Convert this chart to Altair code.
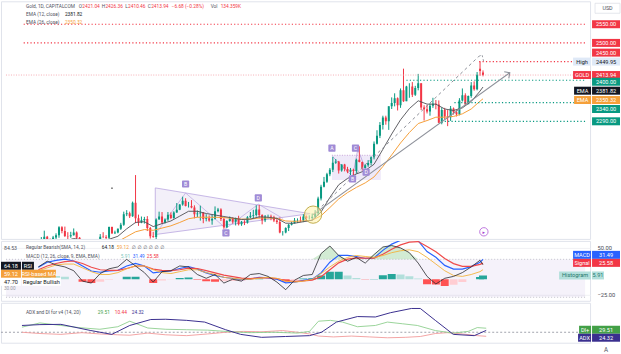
import altair as alt
import pandas as pd

FONT = "Roboto, DejaVu Sans, sans-serif"
W, H1, H2, H3 = 590, 238, 60, 40
X_END = 1 + W / 3

UP, DOWN = "#089981", "#f23645"
RED, GREEN = "#f23645", "#089981"
GRID = "#f0f1f4"
DARK = "#50535e"
INK = "#131722"
ORANGE = "#f5a03a"
BLUE = "#2962ff"
NAVY = "#3a2f8f"
LAV = "#a08bd6"

# ---------------- data (daily bars, bar index 8 = 12 Oct 2023) ----------------
first_bar = 8
opens = [1874, 1868, 1932, 1920, 1923, 1947, 1974, 1981, 1973, 1971,
         1979, 1985, 2006, 1996, 1983, 1982, 1985, 1992, 1978, 1969,
         1950, 1958, 1940, 1946, 1963, 1959, 1981, 1980, 1978, 2007,
         1990, 1992, 2002, 2013, 2041, 2044, 2036, 2072, 2030, 2019,
         2025, 2028, 2004, 1982, 1980, 2027, 2035, 2019, 2027, 2040,
         2031, 2046, 2053, 2067, 2077, 2063, 2063, 2059, 2041, 2043,
         2045, 2028, 2030, 2024, 2029, 2049, 2054, 2028, 2006, 2023,
         2029, 2021, 2029, 2014, 2021, 2018, 2033, 2037, 2039, 2054,
         2039, 2025, 2035, 2035, 2033, 2024, 2020, 1992, 1992, 2004,
         2013, 2017, 2024, 2025, 2024, 2035, 2031, 2031, 2034, 2044,
         2083, 2115, 2128, 2148, 2160, 2179, 2182, 2158, 2174, 2162,
         2155, 2160, 2157, 2187, 2181, 2165, 2172, 2178, 2194, 2230,
         2251, 2280, 2300, 2290, 2330, 2339, 2352, 2333, 2373, 2344,
         2383, 2383, 2361, 2379, 2392, 2327, 2322, 2316, 2332, 2337,
         2335, 2286, 2320, 2303, 2301, 2324, 2314, 2309, 2346, 2360,
         2336, 2358, 2386, 2376, 2431, 2421.04]
highs = [1885, 1933, 1938, 1936, 1962, 1980, 1997, 1983, 1976, 1983,
         1990, 2009, 2009, 2008, 1993, 1994, 2003, 1995, 1980, 1970,
         1965, 1960, 1950, 1970, 1972, 1988, 1993, 1985, 2008, 2008,
         1997, 2003, 2018, 2048, 2052, 2048, 2075, 2146, 2040, 2035,
         2034, 2036, 2007, 1994, 2030, 2048, 2047, 2030, 2047, 2046,
         2049, 2071, 2068, 2088, 2084, 2074, 2079, 2065, 2051, 2064,
         2047, 2041, 2038, 2040, 2062, 2058, 2057, 2031, 2025, 2035,
         2033, 2032, 2037, 2023, 2025, 2036, 2047, 2053, 2065, 2066,
         2041, 2039, 2040, 2040, 2037, 2030, 2032, 1996, 2006, 2015,
         2021, 2031, 2030, 2035, 2041, 2038, 2038, 2043, 2052, 2088,
         2120, 2141, 2152, 2165, 2195, 2189, 2184, 2175, 2176, 2168,
         2165, 2163, 2190, 2223, 2182, 2176, 2186, 2196, 2236, 2266,
         2288, 2305, 2305, 2330, 2354, 2365, 2354, 2378, 2431, 2385,
         2392, 2395, 2385, 2417, 2392, 2333, 2334, 2338, 2353, 2347,
         2346, 2327, 2326, 2320, 2331, 2327, 2320, 2352, 2378, 2365,
         2359, 2395, 2397, 2422, 2449.95, 2426.36]
lows = [1866, 1867, 1908, 1916, 1922, 1945, 1965, 1960, 1954, 1960,
        1971, 1978, 1990, 1980, 1970, 1978, 1984, 1970, 1955, 1945,
        1944, 1932, 1931, 1935, 1955, 1956, 1977, 1965, 1975, 1988,
        1988, 1990, 1999, 2010, 2036, 2031, 2034, 2017, 2010, 2017,
        2016, 1996, 1976, 1978, 1973, 2027, 2015, 2016, 2023, 2028,
        2029, 2045, 2052, 2064, 2062, 2059, 2057, 2030, 2033, 2024,
        2017, 2022, 2021, 2013, 2027, 2046, 2023, 2002, 2004, 2021,
        2016, 2011, 2011, 2010, 2012, 2016, 2030, 2030, 2035, 2030,
        2014, 2020, 2030, 2025, 2020, 2015, 1990, 1984, 1990, 1996,
        2011, 2016, 2018, 2020, 2020, 2025, 2027, 2025, 2031, 2038,
        2078, 2113, 2125, 2143, 2154, 2176, 2150, 2155, 2156, 2151,
        2146, 2145, 2149, 2180, 2158, 2164, 2168, 2172, 2188, 2228,
        2245, 2268, 2281, 2267, 2323, 2330, 2319, 2326, 2342, 2344,
        2353, 2355, 2358, 2373, 2320, 2292, 2311, 2305, 2326, 2322,
        2285, 2282, 2295, 2277, 2291, 2308, 2303, 2306, 2343, 2334,
        2336, 2353, 2372, 2373, 2412, 2410.46]
closes = [1868, 1932, 1920, 1923, 1947, 1974, 1981, 1973, 1971, 1979,
          1985, 2006, 1996, 1983, 1982, 1985, 1992, 1978, 1969, 1950,
          1958, 1940, 1946, 1963, 1959, 1981, 1980, 1978, 2007, 1990,
          1992, 2002, 2013, 2041, 2044, 2036, 2072, 2030, 2019, 2025,
          2028, 2004, 1982, 1980, 2027, 2035, 2019, 2027, 2040, 2031,
          2046, 2053, 2067, 2077, 2063, 2063, 2059, 2041, 2043, 2045,
          2028, 2030, 2024, 2029, 2049, 2054, 2028, 2006, 2023, 2029,
          2021, 2029, 2014, 2021, 2018, 2033, 2037, 2039, 2054, 2039,
          2025, 2035, 2035, 2033, 2024, 2020, 1992, 1992, 2004, 2013,
          2017, 2024, 2025, 2024, 2035, 2031, 2031, 2034, 2044, 2083,
          2115, 2128, 2148, 2160, 2179, 2182, 2158, 2174, 2162, 2155,
          2160, 2157, 2187, 2181, 2165, 2172, 2178, 2194, 2230, 2251,
          2280, 2300, 2290, 2330, 2339, 2352, 2333, 2373, 2344, 2383,
          2383, 2361, 2379, 2392, 2327, 2322, 2316, 2332, 2337, 2335,
          2286, 2320, 2303, 2301, 2324, 2314, 2309, 2346, 2360, 2336,
          2358, 2386, 2376, 2415, 2425, 2413.94]

# indicator readings (every third bar)
ind_idx = [12, 15, 18, 21, 24, 27, 30, 33, 36, 39,
           42, 45, 48, 51, 54, 57, 60, 63, 66, 69,
           72, 75, 78, 81, 84, 87, 90, 93, 96, 99,
           102, 105, 108, 111, 114, 117, 120, 123, 126, 129,
           132, 135, 138, 141, 144, 147, 150, 153, 156, 159,
           162, 163]
ema12 = [1909, 1935, 1952, 1969, 1976, 1972, 1963, 1965, 1974, 1982,
         2002, 2019, 2021, 2008, 2016, 2023, 2036, 2049, 2049, 2043,
         2039, 2035, 2031, 2027, 2028, 2034, 2033, 2030, 2017, 2017,
         2021, 2025, 2047, 2086, 2120, 2137, 2149, 2158, 2175, 2215,
         2256, 2294, 2324, 2345, 2336, 2336, 2323, 2319, 2326, 2343,
         2371, 2381.82]
ema26 = [1890, 1908, 1922, 1937, 1947, 1951, 1950, 1954, 1961, 1968,
         1981, 1994, 2000, 1998, 2004, 2010, 2019, 2029, 2033, 2033,
         2033, 2032, 2030, 2028, 2028, 2031, 2031, 2030, 2023, 2022,
         2023, 2025, 2037, 2059, 2082, 2099, 2113, 2125, 2141, 2169,
         2200, 2232, 2260, 2284, 2292, 2301, 2301, 2303, 2310, 2323,
         2344, 2350.32]
macd = [19, 27, 30, 32, 29, 21, 13, 11, 13, 14,
        21, 25, 21, 10, 12, 13, 17, 20, 16, 10,
        6, 3, 1, -1, 0, 3, 2, 0, -6, -5,
        -2, 0, 10, 27, 38, 38, 36, 33, 34, 46,
        56, 62, 64, 61, 44, 35, 22, 16, 16, 20,
        27, 31.49]
signal = [15, 21, 25, 28, 29, 25, 19, 15, 14, 14,
          17, 21, 21, 16, 14, 13.5, 15, 17.5, 17, 13.5,
          10, 6.5, 4, 1.5, 0.8, 1.9, 2, 1, -2.4, -3.7,
          -2.9, -1.5, 4, 15, 26, 32, 34, 33.5, 33.7, 39.7,
          47.7, 54.7, 59.2, 60, 52, 43.7, 33.1, 24.8, 20.5, 20.3,
          23.6, 25.58]
rsi = [62, 68, 64, 62, 58, 47, 45, 55, 60, 62,
       70, 63, 56, 46, 57, 58, 63, 62, 54, 50,
       54, 45, 49, 47, 54, 55, 52, 46, 38, 48,
       53, 54, 76, 84, 74, 68, 72, 66, 75, 83,
       84.5, 82, 77, 66, 52, 44, 50, 52, 56, 62,
       69, 64.18]
rsi_ma = [58, 61, 64, 65, 65, 61, 57, 54, 54, 56,
          60, 63, 63, 59, 56, 55, 57, 59, 59, 56,
          54, 51, 50, 49, 49, 50, 51, 50, 47, 46,
          47, 49, 55, 62, 68, 72, 74, 73, 72, 74,
          77, 79, 80, 78, 72, 65, 58, 53, 52, 54,
          57, 59.12]

adx_idx = [8, 14, 21, 31, 38, 44, 51, 56, 63, 69, 76, 81, 88, 96, 104, 108,
           113, 120, 126, 131, 138, 141, 146, 152, 159, 163]
adx_val = [36, 38, 38.6, 24, 15, 36, 50, 50.6, 48, 44, 26, 15, 8, 10, 12, 20,
           44, 57, 56, 66, 76, 76, 48, 15, 12, 24.32]
dip_idx = [8, 14, 21, 27, 34, 40, 44, 50, 56, 63, 70, 76, 84, 92, 100, 104,
           107, 111, 115, 120, 126, 130, 135, 140, 146, 152, 157, 160, 163]
dip_val = [32, 42, 36, 31, 27, 33, 46, 30, 27, 26, 25, 22, 19, 20, 18, 22,
           46, 48, 44, 33, 36, 44, 40, 36, 24, 18, 22, 31, 29.51]
dim_idx = [8, 14, 21, 28, 34, 40, 44, 50, 56, 63, 70, 76, 82, 88, 95, 100,
           104, 107, 112, 118, 124, 130, 136, 141, 146, 150, 155, 160, 163]
dim_val = [20, 17, 15, 19, 16, 14, 13, 18, 14, 12, 16, 20, 22, 21, 24, 20,
           16, 11, 9, 11, 9, 7, 8, 10, 17, 19, 16, 12, 10.44]

month_idx = [22, 44, 64, 86, 107, 127, 149, 172, 191]
month_lbl = ["Nov", "Dec", "2024", "Feb", "Mar", "Apr", "May", "Jun", "Jul"]
price_ticks = [2000, 2040, 2080, 2120, 2160, 2200, 2240, 2280, 2320, 2360,
               2400, 2440, 2480, 2520, 2560]

# horizontal levels: price, first bar index
red_levels = [2550, 2500, 2450]
red_level_from = [7, 7, 161.7]
green_levels = [2400, 2340, 2290]
green_level_from = [137, 153.3, 150]
last_close = 2413.94

# drawings (bar index, price)
tri_i = [51.7, 104.3, 51.7]
tri_p = [2111.6, 2042.5, 1986.7]
zig1_i = [51.7, 62, 75.7, 86.7, 95]
zig1_p = [1987, 2098, 2003, 2068, 2030]
box2_i = [111.7, 128.3]
box2_p = [2199, 2133]
zig2_i = [112, 118.7, 120.5, 123.3]
zig2_p = [2195, 2142, 2215, 2158]
trend_i = [105.3, 172.1]
trend_p = [2040, 2420]
dash_i = [105.3, 161.6]
dash_p = [2040, 2464]
hook_i = [161.6, 162.7, 163.2]
hook_p = [2464, 2468, 2451]
pattern_lbl = ["B", "C", "D", "A", "C", "B", "D"]
pattern_i = [62, 75.7, 86.7, 111.7, 119.7, 118.7, 123.3]
pattern_p = [2122, 1991, 2085, 2218, 2218, 2136, 2154]

# right-hand price tags: value, price where the tag is drawn
tag_values = [2550, 2500, 2450, 2449.95, 2413.94, 2400, 2381.82, 2350.32, 2340, 2290]
tag_at = [2550, 2500, 2474, 2449.95, 2413.94, 2396, 2372, 2347, 2323, 2290]

# ---------------- scales & helpers ----------------
XS = alt.Scale(domain=[1, X_END], nice=False, zero=False)
PS = alt.Scale(domain=[1975, 2611.5], nice=False, zero=False)
RS = alt.Scale(domain=[26.3, 89.4], nice=False, zero=False)
MS = alt.Scale(domain=[-34.6, 61.1], nice=False, zero=False)
AS = alt.Scale(domain=[-4.7, 89.4], nice=False, zero=False)
ONE = pd.DataFrame({"z": [0]})


def X(field="i", axis=None):
    return alt.X(f"{field}:Q", scale=XS, axis=axis)


def Y(field, scale, axis=None):
    return alt.Y(f"{field}:Q", scale=scale, axis=axis)


def xgrid():
    return alt.Axis(values=month_idx, grid=True, gridColor=GRID, labels=False,
                    ticks=False, domain=False, title=None)


def txt(x, y, s, color=DARK, size=4.8, align="left", weight="normal", font=FONT):
    return alt.Chart(ONE).mark_text(text=s, color=color, font=font, fontSize=size, align=align,
                                    baseline="middle", fontWeight=weight).encode(
        x=alt.value(x), y=alt.value(y))


def tag(at, text, bg, fg, x0, x1, scale, size=5.6):
    d = pd.DataFrame({"v": [at], "t": [text]})
    r = alt.Chart(d).mark_rect(color=bg, yOffset=-4, y2Offset=4).encode(
        x=alt.value(x0), x2=alt.value(x1), y=Y("v", scale), y2=alt.Y2("v"))
    t = alt.Chart(d).mark_text(color=fg, font=FONT, fontSize=size, align="center",
                               baseline="middle").encode(
        x=alt.value((x0 + x1) / 2), y=Y("v", scale), text="t:N")
    return [r, t]


def hline(p, i0, color, dash, width=1.0, scale=PS):
    d = pd.DataFrame({"p": [p], "a": [i0], "b": [X_END]})
    return alt.Chart(d).mark_rule(color=color, strokeDash=dash, strokeWidth=width).encode(
        x=X("a"), x2=alt.X2("b"), y=Y("p", scale))


def poly(pi, pp, color, width=1.0, dash=None, opacity=1.0, scale=PS):
    d = pd.DataFrame({"i": pi, "p": pp, "k": list(range(len(pi)))})
    kw = dict(color=color, strokeWidth=width, opacity=opacity, clip=True)
    if dash:
        kw["strokeDash"] = dash
    return alt.Chart(d).mark_line(**kw).encode(x=X("i"), y=Y("p", scale), order="k:Q")


# ---------------- main price pane ----------------
cdf = pd.DataFrame({"i": list(range(first_bar, first_bar + len(closes))),
                    "o": opens, "h": highs, "l": lows, "c": closes})
cdf["col"] = [UP if c >= o else DOWN for o, c in zip(opens, closes)]

yaxis_main = alt.Axis(orient="right", values=price_ticks, grid=True, gridColor=GRID, ticks=False,
                      domain=False, title=None, labelOverlap=False,
                      labelExpr="(datum.value > 2250 && datum.value != 2520) ? '' : format(datum.value, '.2f')",
                      labelFont=FONT, labelFontSize=5.8, labelColor="#4a4d57", labelPadding=7)

tri_fill_df = pd.DataFrame({"i": [tri_i[0], tri_i[1]], "top": [tri_p[0], tri_p[1]],
                            "bot": [tri_p[2], tri_p[1]]})
tri_fill = alt.Chart(tri_fill_df).mark_area(color="#7e57c2", opacity=0.09, clip=True).encode(
    x=X("i"), y=Y("top", PS), y2=alt.Y2("bot"))
tri_edge = poly(tri_i + [tri_i[0]], tri_p + [tri_p[0]], "#b9a6e0", 0.8)
zig1 = poly(zig1_i, zig1_p, "#b9a6e0", 0.8, opacity=0.9)

box2_df = pd.DataFrame({"a": [box2_i[0]], "b": [box2_i[1]], "t": [box2_p[0]], "u": [box2_p[1]]})
box2 = alt.Chart(box2_df).mark_rect(color="#c9b6ea", opacity=0.3).encode(
    x=X("a"), x2=alt.X2("b"), y=Y("t", PS), y2=alt.Y2("u"))
box2_top = alt.Chart(box2_df).mark_rule(color="#c39bd3", strokeDash=[1, 1.5], strokeWidth=0.9).encode(
    x=X("a"), x2=alt.X2("b"), y=Y("t", PS))
zig2 = poly(zig2_i, zig2_p, "#b39ddb", 0.8)

wicks = alt.Chart(cdf).mark_rule(strokeWidth=1, clip=True).encode(
    x=X("i", xgrid()), y=Y("l", PS, yaxis_main), y2=alt.Y2("h"), color=alt.Color("col:N", scale=None))
bodies = alt.Chart(cdf).mark_bar(size=2, clip=True).encode(
    x=X("i"), y=Y("o", PS), y2=alt.Y2("c"), color=alt.Color("col:N", scale=None))

edf = pd.DataFrame({"i": ind_idx, "e12": ema12, "e26": ema26})
ema26_line = alt.Chart(edf).mark_line(color=ORANGE, strokeWidth=1, clip=True).encode(
    x=X("i"), y=Y("e26", PS))
ema12_line = alt.Chart(edf).mark_line(color="#4f4f55", strokeWidth=0.9, clip=True).encode(
    x=X("i"), y=Y("e12", PS))

levels = [hline(p, a, RED, [1.2, 2.2], 1.2) for p, a in zip(red_levels, red_level_from)]
levels += [hline(p, a, GREEN, [1.2, 2.2], 1.2) for p, a in zip(green_levels, green_level_from)]
levels.append(hline(last_close, 1, "#f49aa3", [1, 1.5], 0.8))

trend = poly(trend_i, trend_p, "#8d9099", 1.1)
dashed = poly(dash_i, dash_p, "#8d9099", 1.0, dash=[3, 3])
hook = poly(hook_i, hook_p, "#8d9099", 0.9, dash=[2, 2])
head_df = pd.DataFrame({"i": [trend_i[1]], "p": [trend_p[1]]})
arrow_head = alt.Chart(head_df).mark_point(shape="M-1,1L0,0L1,1", angle=55, size=64, filled=False,
                                           stroke="#8d9099", strokeWidth=1.1, opacity=1).encode(
    x=X("i"), y=Y("p", PS))
circ_df = pd.DataFrame({"i": [trend_i[0]], "p": [trend_p[0]]})
circle = alt.Chart(circ_df).mark_point(shape="circle", size=300, filled=True, fill="#fff1a8",
                                       fillOpacity=0.55, stroke="#c2ad4f", strokeWidth=1,
                                       opacity=1).encode(x=X("i"), y=Y("p", PS))

pat_df = pd.DataFrame({"i": pattern_i, "p": pattern_p, "t": pattern_lbl})
pat_box = alt.Chart(pat_df).mark_rect(color=LAV, xOffset=-3.6, x2Offset=3.6, yOffset=-3.6,
                                      y2Offset=3.6, cornerRadius=1).encode(
    x=X("i"), x2=alt.X2("i"), y=Y("p", PS), y2=alt.Y2("p"))
pat_txt = alt.Chart(pat_df).mark_text(color="white", font=FONT, fontSize=5.2, baseline="middle").encode(
    x=X("i"), y=Y("p", PS), text="t:N")

dot = alt.Chart(pd.DataFrame({"i": [37], "p": [2111]})).mark_point(
    shape="circle", size=3, filled=True, color="#333333").encode(x=X("i"), y=Y("p", PS))
icon_df = pd.DataFrame({"i": [163.3], "p": [1994]})
icon = alt.Chart(icon_df).mark_point(shape="circle", size=70, filled=False, stroke="#a43fd1",
                                     strokeWidth=1).encode(x=X("i"), y=Y("p", PS))
icon_in = alt.Chart(icon_df).mark_text(text="▸", color="#a43fd1", fontSize=5, font=FONT,
                                       baseline="middle").encode(x=X("i"), y=Y("p", PS))

tag_style = [(RED, "white"), (RED, "white"), (RED, "white"), ("#dfe9f7", INK), (RED, "white"),
             (GREEN, "white"), (INK, "white"), (ORANGE, "white"), (GREEN, "white"), (GREEN, "white")]
price_tags = []
for v, at, (bg, fg) in zip(tag_values, tag_at, tag_style):
    price_tags += tag(at, f"{v:.2f}", bg, fg, 592, 620, PS)
price_tags += tag(tag_at[3], "High", "#dfe9f7", INK, 573, 591, PS)
price_tags += tag(tag_at[4], "GOLD", RED, "white", 573, 591, PS)
price_tags += tag(tag_at[6], "EMA", INK, "white", 574, 591, PS)
price_tags += tag(tag_at[7], "EMA", ORANGE, "white", 574, 591, PS)

head1 = [
    txt(25, 6, "Gold, 1D, CAPITALCOM", DARK),
    txt(78, 6, "O", DARK), txt(81.5, 6, "2421.04", RED),
    txt(101, 6, "H", DARK), txt(104.6, 6, "2426.36", RED),
    txt(124.5, 6, "L", DARK), txt(127.3, 6, "2410.46", RED),
    txt(147, 6, "C", DARK), txt(150.4, 6, "2413.94", RED),
    txt(171, 6, "−6.68 (−0.28%)", RED),
    txt(210, 6, "Vol", DARK), txt(220, 6, "134.359K", RED),
    txt(25, 14, "EMA (12, close)", DARK), txt(64, 14, "2381.82", INK),
    txt(25, 22, "EMA (26, close)", DARK), txt(64, 22, "2350.32", ORANGE),
]
usd_box = alt.Chart(ONE).mark_rect(fill="white", stroke="#d9dce3", strokeWidth=0.7).encode(
    x=alt.value(595), x2=alt.value(620), y=alt.value(2), y2=alt.value(12))

main = alt.layer(
    tri_fill, tri_edge, zig1, box2, box2_top, zig2, wicks, bodies, ema26_line, ema12_line,
    *levels, trend, dashed, hook, arrow_head, circle, pat_box, pat_txt, dot, icon, icon_in,
    *price_tags, *head1, usd_box, txt(607.5, 7, "USD", DARK, 5.4, "center")
).properties(width=W, height=H1)

# ---------------- RSI + MACD pane ----------------
hist = [m - s for m, s in zip(macd, signal)]
hcol = []
for k, h in enumerate(hist):
    prev = hist[k - 1] if k else h
    if h >= 0:
        hcol.append("#26a69a" if h >= prev else "#b2dfdb")
    else:
        hcol.append("#ff5252" if h < prev else "#ffcdd2")
hdf = pd.DataFrame({"i": ind_idx, "h": hist, "zero": [0] * len(hist), "col": hcol})
mdf = pd.DataFrame({"i": ind_idx, "m": macd, "s": signal})
rdf = pd.DataFrame({"i": ind_idx, "r": rsi, "ma": rsi_ma})
band_df = pd.DataFrame({"a": [1], "b": [X_END], "hi": [70], "lo": [30]})

band = alt.Chart(band_df).mark_rect(color="#7e57c2", opacity=0.08).encode(
    x=X("a"), x2=alt.X2("b"), y=Y("hi", RS), y2=alt.Y2("lo"))
band_lines = [hline(v, 1, "#b8b9c2", [1, 2], 0.8, RS) for v in (70, 30)]
bars = alt.Chart(hdf).mark_bar(size=8, clip=True).encode(
    x=X("i"), y=Y("h", MS), y2=alt.Y2("zero"), color=alt.Color("col:N", scale=None))
ob_fill = alt.Chart(rdf).transform_calculate(top="max(datum.r, 70)", base="70").mark_area(
    color="#4caf50", opacity=0.25, clip=True).encode(x=X("i"), y=Y("top", RS), y2=alt.Y2("base"))
macd_axis = alt.Axis(orient="right", values=[50, -25], format=".2f", grid=True, gridColor=GRID,
                     ticks=False, domain=False, title=None, labelFont=FONT, labelFontSize=5.8,
                     labelColor="#4a4d57", labelPadding=7)
macd_line = alt.Chart(mdf).mark_line(color=BLUE, strokeWidth=1.2, clip=True).encode(
    x=X("i", xgrid()), y=Y("m", MS, macd_axis))
sig_line = alt.Chart(mdf).mark_line(color="#ef4a4a", strokeWidth=1.2, clip=True).encode(
    x=X("i"), y=Y("s", MS))
rsi_ma_line = alt.Chart(rdf).mark_line(color="#f3b33d", strokeWidth=0.9, clip=True).encode(
    x=X("i"), y=Y("ma", RS))
rsi_line = alt.Chart(rdf).mark_line(color="#2a2a2e", strokeWidth=0.8, clip=True).encode(
    x=X("i"), y=Y("r", RS))

mid_tags = []
mid_tags += tag(38.8, "MACD", BLUE, "white", 573, 591, MS)
mid_tags += tag(38.8, f"{macd[-1]:.2f}", BLUE, "white", 592, 620, MS)
mid_tags += tag(26.0, "Signal", RED, "white", 573, 591, MS)
mid_tags += tag(26.0, f"{signal[-1]:.2f}", RED, "white", 592, 620, MS)
mid_tags += tag(hist[-1], "Histogram", "#b2dfdb", "#26786e", 559, 591, MS)
mid_tags += tag(hist[-1], f"{hist[-1]:.2f}", "#b2dfdb", "#26786e", 592, 604, MS)
mid_tags += tag(63.2, f"{rsi[-1]:.2f}", INK, "white", 0, 20, RS)
mid_tags += tag(63.2, "RSI", INK, "white", 21, 33, RS)
mid_tags += tag(54.7, f"{rsi_ma[-1]:.2f}", ORANGE, "white", 0, 20, RS)
mid_tags += tag(54.7, "RSI-based MA", ORANGE, "white", 21, 55, RS)
mid_tags += tag(46.3, "47.70", "white", INK, 0, 20, RS)
mid_tags += tag(46.3, "Regular Bullish", "white", INK, 21, 60, RS)

head2 = [
    txt(3, 7, "84.53", DARK, 5.2),
    txt(3, 48, "30.00", "#9598a1", 4.6),
    txt(25, 7, "Regular Bearish(SMA, 14, 2)", DARK),
    txt(101, 7, "64.18", INK), txt(116, 7, "59.12", ORANGE),
    txt(131, 7, "∅  ∅  ∅  ∅  ∅  ∅", "#5f626d", 4.8, font="DejaVu Sans"),
    txt(25, 16, "MACD (12, 26, close, 9, EMA, EMA)", DARK),
    txt(120, 16, f"{hist[-1]:.2f}", "#7cc7bd"),
    txt(132, 16, f"{macd[-1]:.2f}", BLUE),
    txt(146, 16, f"{signal[-1]:.2f}", RED),
]

mid = alt.layer(
    band, *band_lines, bars, ob_fill, macd_line, sig_line, rsi_ma_line, rsi_line,
    *mid_tags, *head2
).resolve_scale(y="independent").properties(width=W, height=H2)

# ---------------- ADX pane ----------------
adf = pd.DataFrame({"i": adx_idx, "v": adx_val})
pdf = pd.DataFrame({"i": dip_idx, "v": dip_val})
ndf = pd.DataFrame({"i": dim_idx, "v": dim_val})

label_expr = " : ".join(f"datum.value == {v} ? '{t}'" for v, t in zip(month_idx, month_lbl)) + " : ''"
x_bottom = alt.Axis(values=month_idx, grid=True, gridColor=GRID, ticks=False, domain=False, title=None,
                    labelExpr=label_expr, labelFont=FONT, labelFontSize=6.3, labelColor="#4a4d57",
                    labelPadding=5, labelOverlap=False, labelFlush=False,
                    labelFontWeight={"condition": {"test": "datum.value == 64", "value": "bold"},
                                     "value": "normal"})
adx_axis = alt.Axis(orient="right", values=[80, 40], format=".2f", grid=True, gridColor=GRID,
                    ticks=False, domain=False, title=None, labelFont=FONT, labelFontSize=5.8,
                    labelColor="#4a4d57", labelPadding=7)

lvl20 = hline(20, 1, "#8a8d99", [2, 2], 0.8, AS)
dim_line = alt.Chart(ndf).mark_line(color="#f29b9b", strokeWidth=0.9, clip=True).encode(
    x=X("i"), y=Y("v", AS))
dip_line = alt.Chart(pdf).mark_line(color="#8fcf8f", strokeWidth=0.9, clip=True).encode(
    x=X("i"), y=Y("v", AS))
adx_line = alt.Chart(adf).mark_line(color=NAVY, strokeWidth=1.0, clip=True).encode(
    x=X("i", x_bottom), y=Y("v", AS, adx_axis))

low_tags = []
low_tags += tag(25.9, "DI+", "#43a047", "white", 579, 591, AS)
low_tags += tag(25.9, f"{dip_val[-1]:.2f}", "#43a047", "white", 592, 620, AS)
low_tags += tag(7.1, "ADX", NAVY, "white", 578, 591, AS)
low_tags += tag(7.1, f"{adx_val[-1]:.2f}", NAVY, "white", 592, 620, AS)

head3 = [
    txt(25, 10, "ADX and DI for v4 (14, 20)", DARK),
    txt(97, 10, f"{dip_val[-1]:.2f}", "#43a047"),
    txt(114, 10, f"{dim_val[-1]:.2f}", RED),
    txt(131, 10, f"{adx_val[-1]:.2f}", NAVY),
    txt(606, 47, "A", DARK, 6.3, "center"),
]

low = alt.layer(lvl20, dim_line, dip_line, adx_line, *low_tags, *head3).properties(width=W, height=H3)

chart = alt.vconcat(main, mid, low, spacing=0, padding=0, background="white").configure_view(
    stroke="#e0e3eb", strokeWidth=1)

chart.save("out.html", embed_options={"renderer": "svg", "actions": False})
